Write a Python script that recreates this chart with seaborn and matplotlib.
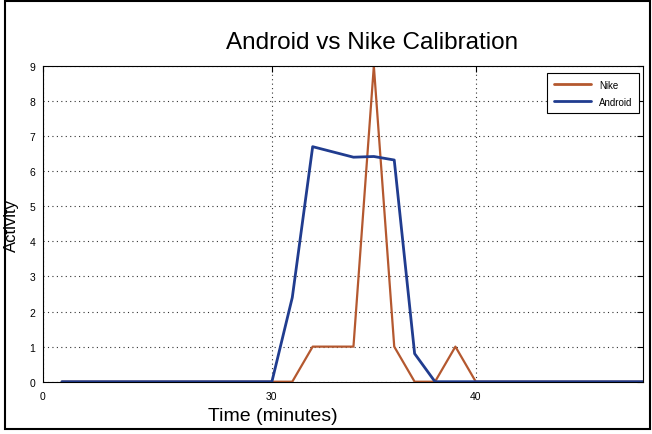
import numpy as np
import pandas as pd
import matplotlib
matplotlib.use("Agg")
import matplotlib.pyplot as plt
import seaborn as sns
from matplotlib.patches import Rectangle

# data
minutes = [19.7, 30, 31, 32, 33, 34, 35, 36, 37, 38, 39, 40, 48.2]
nike = [0, 0, 0, 1, 1, 1, 9, 1, 0, 0, 1, 0, 0]
android = [0, 0, 2.4, 6.7, 6.55, 6.4, 6.42, 6.32, 0.8, 0, 0, 0, 0]
series_names = ["Nike", "Android"]
series_colors = ["#B4582F", "#203C8F"]
x_tick_labels = ["0", "30", "40"]
y_ticks = list(range(0, 10))

df = pd.DataFrame({
    "Time": minutes * 2,
    "Activity": nike + android,
    "Series": ["Nike"] * len(minutes) + ["Android"] * len(minutes),
})

sns.set_style("white")
plt.rcParams["font.family"] = ["Liberation Sans", "DejaVu Sans"]
plt.rcParams["text.color"] = "black"
plt.rcParams["xtick.color"] = "black"
plt.rcParams["ytick.color"] = "black"

fig = plt.figure(figsize=(6.52, 4.35), dpi=100)
ax = fig.add_axes([42.5 / 652, 1 - 382.7 / 435, 600.5 / 652, 315.7 / 435])

sns.lineplot(data=df, x="Time", y="Activity", hue="Series", hue_order=series_names,
             palette=dict(zip(series_names, series_colors)), ax=ax, sort=False,
             estimator=None, legend=False)
lines = ax.get_lines()
lines[0].set_linewidth(1.6)
lines[1].set_linewidth(2.0)

x_left, x_right = 18.75, 48.2
ax.set_xlim(x_left, x_right)
ax.set_ylim(0, 9)
ax.set_xticks([x_left, 30, 40])
ax.set_xticklabels(x_tick_labels)
ax.set_yticks(y_ticks)
ax.tick_params(direction="in", length=4, width=0.8, labelsize=7.5, pad=5,
               top=True, right=True, colors="black", labelcolor="black")
ax.tick_params(axis="x", pad=7)

ax.grid(True, color="#333333", linestyle=(0, (1, 3)), linewidth=0.8)
for s in ax.spines.values():
    s.set_visible(True)
    s.set_color("black")
    s.set_linewidth(0.8)

ax.set_xlabel("")
ax.set_ylabel("")
fig.text(273 / 652, 1 - 417 / 435, "Time (minutes)", fontsize=14,
         ha="center", va="center", color="black")
fig.text(11 / 652, 1 - 226 / 435, "Activity", fontsize=12, rotation=90,
         ha="center", va="center", color="black")
fig.text(372 / 652, 1 - 43 / 435, "Android vs Nike Calibration", fontsize=17.5,
         ha="center", va="center", color="black")

handles = [plt.Line2D([], [], color=c, lw=2) for c in series_colors]
leg = ax.legend(handles, series_names, loc="upper right",
                bbox_to_anchor=(0.9933, 0.9778), borderaxespad=0,
                fontsize=7, handlelength=3.8, fancybox=False, framealpha=1,
                edgecolor="black", borderpad=0.7, labelspacing=0.7)
leg.get_frame().set_linewidth(0.8)
for t in leg.get_texts():
    t.set_color("black")

fig.patches.append(Rectangle((5 / 652, 1 - 430 / 435), 645 / 652, 428 / 435,
                             transform=fig.transFigure, fill=False,
                             edgecolor="black", linewidth=1.5))

fig.savefig("out.png", dpi=100)
